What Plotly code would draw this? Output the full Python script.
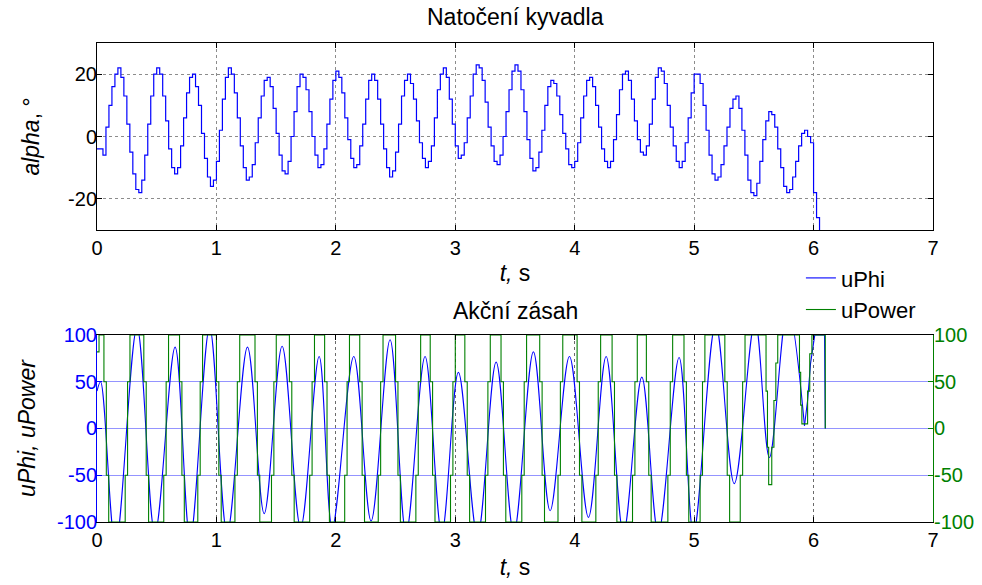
import numpy as np
import plotly.graph_objects as go

# ---------------- data ----------------
alpha_dt = 0.025
alpha = [
    -4, -4, -6, 3, 10, 16, 20, 22, 19, 13, 4, -5, -12, -17, -18, -14, -6, 4, 13, 20,
    22, 20, 13, 5, -4, -10, -12, -10, -3, 6, 14, 19, 20, 16, 10, 1, -7, -13, -16, -14,
    -8, 2, 12, 19, 22, 20, 14, 6, -3, -10, -14, -13, -9, -2, 6, 13, 18, 19, 16, 9,
    1, -6, -11, -12, -8, 0, 8, 16, 20, 19, 15, 8, 0, -6, -10, -9, -4, 4, 12, 18,
    21, 19, 14, 6, -1, -7, -10, -9, -3, 4, 12, 18, 20, 18, 12, 4, -4, -10, -13, -11,
    -5, 4, 13, 18, 20, 17, 12, 5, -2, -7, -10, -8, -3, 6, 15, 20, 22, 19, 12, 4,
    -3, -7, -6, -2, 6, 13, 20, 23, 22, 18, 11, 3, -3, -8, -9, -6, 0, 8, 15, 21,
    23, 21, 15, 8, -1, -7, -11, -10, -5, 2, 10, 16, 18, 17, 13, 7, 1, -4, -9, -10,
    -8, -2, 6, 13, 18, 19, 16, 10, 3, -4, -8, -10, -8, -1, 7, 15, 20, 21, 18, 12,
    5, -1, -5, -6, -3, 4, 12, 19, 22, 21, 17, 10, 3, -3, -8, -10, -8, -2, 6, 14,
    20, 20, 17, 10, 2, -6, -12, -14, -13, -9, -3, 3, 9, 12, 13, 9, 2, -6, -14, -18,
    -19, -15, -8, -1, 5, 8, 7, 3, -4, -10, -16, -18, -17, -13, -8, -3, 1, 2, 0, -2,
    -18, -26, -40,
]

uphi_t = [0, 0.03, 0.155, 0.335, 0.485, 0.654, 0.78, 0.943, 1.09, 1.26,
          1.40, 1.55, 1.705, 1.86, 1.97, 2.15, 2.295, 2.454, 2.588, 2.747,
          2.887, 3.026, 3.186, 3.342, 3.49, 3.654, 3.794, 3.956, 4.115, 4.263,
          4.408, 4.562, 4.70, 4.874, 4.995, 5.18, 5.336, 5.51, 5.63, 5.784,
          5.924]
uphi_v = [40, 50, -125, 108, -112, 87, -118, 108, -112, 87,
          -91, 88, -106, 77, -106, 77, -99, 95, -112, 77,
          -112, 60, -115, 71, -112, 82, -88, 77, -95, 77,
          -112, 55, -112, 76, -112, 112, -59, 115, -31, 130,
          3]
uphi_tail_t = [5.924, 5.95, 5.975, 6.0, 6.01, 6.092, 6.098]
uphi_tail_v = [3, 30, 70, 95, 100, 100, 0]

upow_t = [0, 0.017,
          0.058, 0.078, 0.098, 0.236, 0.256, 0.276,
          0.392, 0.412, 0.432, 0.559, 0.579, 0.599,
          0.691, 0.711, 0.731, 0.844, 0.864, 0.884,
          1.0, 1.02, 1.04, 1.155, 1.175, 1.195,
          1.323, 1.343, 1.363, 1.461, 1.481, 1.501,
          1.611, 1.631, 1.651, 1.781, 1.801, 1.821,
          1.906, 1.926, 1.946, 2.074, 2.094, 2.114,
          2.2, 2.22, 2.24, 2.355, 2.375, 2.395,
          2.5, 2.52, 2.54, 2.67, 2.69, 2.71,
          2.79, 2.81, 2.83, 2.96, 2.98, 3.0,
          3.08, 3.10, 3.12, 3.253, 3.273, 3.293,
          3.383, 3.403, 3.423, 3.557, 3.577, 3.597,
          3.707, 3.727, 3.747, 3.86, 3.88, 3.90,
          4.02, 4.04, 4.06, 4.177, 4.197, 4.217,
          4.313, 4.333, 4.353, 4.484, 4.504, 4.524,
          4.60, 4.62, 4.64, 4.78, 4.80, 4.82,
          4.915, 4.935, 4.955, 5.05, 5.07, 5.09,
          5.257, 5.277, 5.297, 5.386, 5.406, 5.426,
          5.602, 5.614, 5.624,
          5.65, 5.668, 5.684, 5.70,
          5.882, 5.892, 5.902,
          5.95, 5.968, 5.986,
          6.098]
upow_v = [82, 100,
          50, -50, -100, -50, 50, 100,
          50, -50, -100, -50, 50, 100,
          50, -50, -100, -50, 50, 100,
          50, -50, -100, -50, 50, 100,
          50, -50, -100, -50, 50, 100,
          50, -50, -100, -50, 50, 100,
          50, -50, -100, -50, 50, 100,
          50, -50, -100, -50, 50, 100,
          50, -50, -100, -50, 50, 100,
          50, -50, -100, -50, 50, 100,
          50, -50, -100, -50, 50, 100,
          50, -50, -100, -50, 50, 100,
          50, -50, -100, -50, 50, 100,
          50, -50, -100, -50, 50, 100,
          50, -50, -100, -50, 50, 100,
          50, -50, -100, -50, 50, 100,
          50, -50, -100, -50, 50, 100,
          50, -50, -100, -50, 50, 100,
          40, -20, -60,
          -20, 30, 70, 100,
          60, 25, 5,
          40, 80, 100,
          0]

x_ticks = [0, 1, 2, 3, 4, 5, 6, 7]
alpha_ticks = [-20, 0, 20]
alpha_tick_text = ["-20", "0", "20"]
u_ticks = [-100, -50, 0, 50, 100]
u_tick_text = ["-100", "-50", "0", "50", "100"]

title_top = "Natočení kyvadla"
title_bottom = "Akční zásah"

# ---------------- figure ----------------
BLUE = "#0000ff"
GREEN = "#008000"
FONT = "Liberation Sans, Arial, sans-serif"
TICK = 20
LAB = 23

t_alpha = np.arange(len(alpha)) * alpha_dt

fig = go.Figure()
fig.add_trace(go.Scatter(x=t_alpha, y=alpha, mode="lines",
                         line=dict(color=BLUE, width=1.2, shape="hv"),
                         xaxis="x", yaxis="y", showlegend=False))
fig.add_trace(go.Scatter(x=uphi_t, y=uphi_v, mode="lines", name="uPhi",
                         line=dict(color=BLUE, width=1.1, shape="spline", smoothing=1.0),
                         xaxis="x2", yaxis="y2", legendgroup="uphi"))
fig.add_trace(go.Scatter(x=uphi_tail_t, y=uphi_tail_v, mode="lines", name="uPhi",
                         line=dict(color=BLUE, width=1.1),
                         xaxis="x2", yaxis="y2", legendgroup="uphi", showlegend=False))
fig.add_trace(go.Scatter(x=upow_t, y=upow_v, mode="lines", name="uPower",
                         line=dict(color=GREEN, width=1.1, shape="hv"),
                         xaxis="x2", yaxis="y3"))

axis_common = dict(ticks="inside", ticklen=5, showline=True, linewidth=1,
                   zeroline=False, automargin=False, tickfont=dict(size=TICK))

fig.update_layout(
    width=982, height=585, autosize=False,
    margin=dict(l=97, r=49, t=43, b=63, autoexpand=False),
    paper_bgcolor="white", plot_bgcolor="white",
    font=dict(family=FONT, size=TICK, color="black"),
    xaxis=dict(domain=[0, 1], anchor="y", range=[0, 7], tickvals=x_ticks,
               linecolor="black", tickcolor="black", mirror="ticks",
               showgrid=True, gridcolor="#8c8c8c", griddash="dot", gridwidth=1,
               title=dict(text="<i>t,</i> s", font=dict(size=LAB), standoff=6),
               **axis_common),
    yaxis=dict(domain=[0.6096, 1], anchor="x", range=[-30, 30], tickvals=alpha_ticks,
               ticktext=alpha_tick_text, ticklabelstandoff=-5,
               linecolor="black", tickcolor="black", mirror="ticks",
               showgrid=True, gridcolor="#8c8c8c", griddash="dot", gridwidth=1,
               title=dict(text="<i>alpha</i>, °", font=dict(size=LAB), standoff=22),
               **axis_common),
    xaxis2=dict(domain=[0, 1], anchor="y2", range=[0, 7], tickvals=x_ticks,
                linecolor="black", tickcolor="black", mirror="ticks",
                showgrid=True, gridcolor="#6a6a6a", griddash="dot", gridwidth=1,
                title=dict(text="<i>t,</i> s", font=dict(size=LAB), standoff=8),
                **axis_common),
    yaxis2=dict(domain=[0, 0.3904], anchor="x2", range=[-100, 100], tickvals=u_ticks,
                ticktext=u_tick_text, ticklabelstandoff=-5,
                linecolor=BLUE, tickcolor=BLUE, mirror=False,
                showgrid=True, gridcolor="rgba(60,60,255,0.55)", gridwidth=1,
                title=dict(text="<i>uPhi, uPower</i>", font=dict(size=LAB, color="black"),
                           standoff=14),
                ticks="inside", ticklen=5, showline=True, linewidth=1, zeroline=False,
                automargin=False, tickfont=dict(size=TICK, color=BLUE)),
    yaxis3=dict(overlaying="y2", side="right", anchor="x2", range=[-100, 100],
                tickvals=u_ticks, ticktext=u_tick_text, ticklabelstandoff=-4,
                linecolor=GREEN, tickcolor=GREEN,
                showgrid=False, ticks="inside", ticklen=5, showline=True, linewidth=1,
                zeroline=False, automargin=False, tickfont=dict(size=TICK, color=GREEN)),
    legend=dict(x=0.842, y=0.553, xanchor="left", yanchor="top",
                bgcolor="rgba(0,0,0,0)", borderwidth=0, font=dict(size=22),
                tracegroupgap=0),
    annotations=[
        dict(text=title_top, x=0.5, y=1.054, xref="paper", yref="paper",
             showarrow=False, font=dict(size=LAB), xanchor="center", yanchor="middle"),
        dict(text=title_bottom, x=0.5, y=0.4405, xref="paper", yref="paper",
             showarrow=False, font=dict(size=LAB), xanchor="center", yanchor="middle"),
    ],
)

fig.write_html("out.html", config={"displayModeBar": False},
               post_script="document.body.style.margin='0';document.body.style.overflow='hidden';")
